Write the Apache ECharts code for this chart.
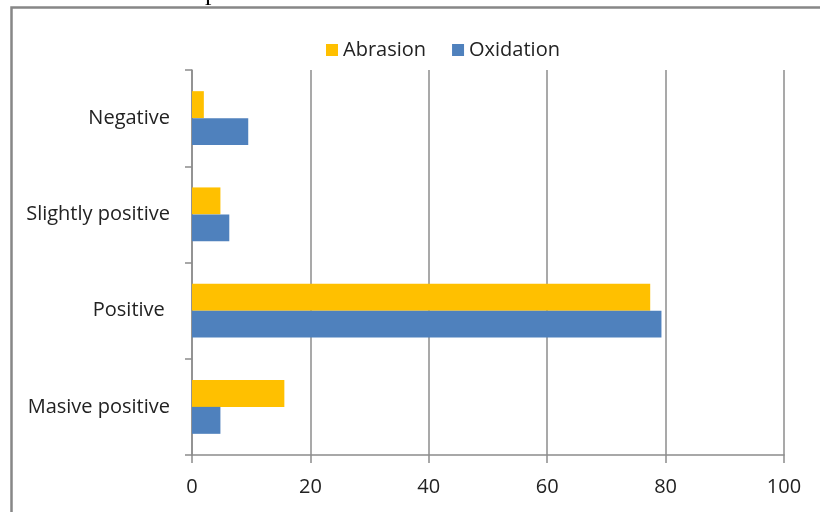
<!DOCTYPE html>
<html>
<head>
<meta charset="utf-8">
<script src="https://cdn.jsdelivr.net/npm/echarts@6/dist/echarts.min.js"></script>
<style>
  html, body { margin: 0; padding: 0; background: #fff; }
  #chart { width: 820px; height: 512px; }
</style>
</head>
<body>
<div id="chart"></div>
<script>
// Response categories, top to bottom
const categories = ['Negative', 'Slightly positive', 'Positive ', 'Masive positive'];
// Percentages per treatment
const abrasion = [2, 4.8, 77.4, 15.6];
const oxidation = [9.5, 6.3, 79.3, 4.8];
// Value axis ticks
const xTicks = [0, 20, 40, 60, 80, 100];

const FONT = '"Open Sans", sans-serif';
const SIZE = 20;
const chart = echarts.init(document.getElementById('chart'));

chart.setOption({
  animation: false,
  backgroundColor: '#ffffff',
  graphic: [
    {
      type: 'rect',
      shape: { x: 11.5, y: 7.5, width: 900, height: 600 },
      style: { fill: 'none', stroke: '#878787', lineWidth: 2.5 },
      silent: true
    },
    {
      type: 'text',
      left: 205,
      top: -20,
      style: { text: 'p', font: '26px "Liberation Serif", serif', fill: '#000' },
      silent: true
    }
  ],
  legend: {
    top: 35,
    left: 321,
    itemWidth: 12,
    itemHeight: 12,
    itemGap: 26,
    icon: 'rect',
    textStyle: { fontFamily: FONT, fontSize: SIZE, color: '#222' },
    data: ['Abrasion', 'Oxidation']
  },
  grid: { left: 192, right: 36, top: 70, bottom: 57, containLabel: false },
  xAxis: {
    type: 'value',
    min: xTicks[0],
    max: xTicks[xTicks.length - 1],
    interval: 20,
    axisLine: { show: true, lineStyle: { color: '#8c8c8c', width: 1.5 } },
    axisTick: { show: true, length: 8, lineStyle: { color: '#8c8c8c', width: 1.5 } },
    axisLabel: { fontFamily: FONT, fontSize: SIZE, color: '#222', margin: 22 },
    splitLine: { show: true, lineStyle: { color: '#8c8c8c', width: 1.5 } }
  },
  yAxis: {
    type: 'category',
    inverse: true,
    data: categories,
    axisLine: { show: true, lineStyle: { color: '#8c8c8c', width: 1.5 } },
    axisTick: { show: true, length: 7, lineStyle: { color: '#8c8c8c', width: 1.5 } },
    axisLabel: { fontFamily: FONT, fontSize: SIZE, color: '#222', margin: 22 }
  },
  series: [
    {
      name: 'Abrasion',
      type: 'bar',
      data: abrasion,
      barGap: 0,
      barCategoryGap: '44%',
      itemStyle: { color: '#FFC000' }
    },
    {
      name: 'Oxidation',
      type: 'bar',
      data: oxidation,
      barGap: 0,
      barCategoryGap: '44%',
      itemStyle: { color: '#4F81BD' }
    }
  ]
});
</script>
</body>
</html>
